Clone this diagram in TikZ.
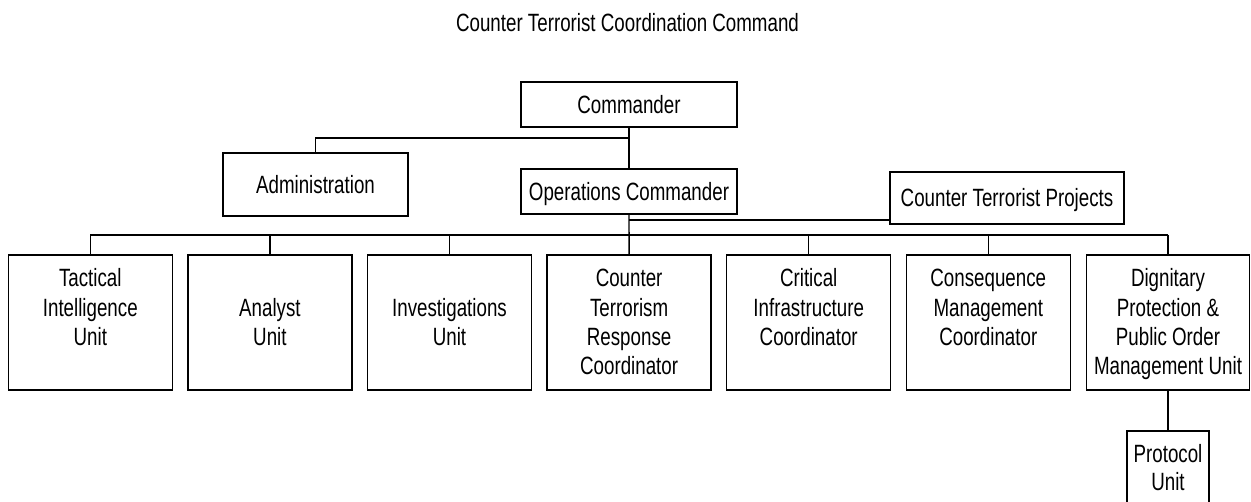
\documentclass[tikz,border=0pt]{standalone}
\usepackage{fontspec}
\setmainfont{Liberation Sans}[FakeStretch=0.75]
\newcommand\orgfont{\fontsize{25}{29.3}\selectfont}
\newcommand\firstln{\rule{0pt}{22pt}}
\begin{document}
\begin{tikzpicture}[x=1pt,y=-1pt,
  conn/.style={line width=1.4pt},
  box/.style={draw,line width=1.4pt,inner sep=0pt,font=\orgfont,text height=18pt,text depth=0pt},
  unitbox/.style={draw,line width=1.4pt,minimum width=164pt,minimum height=135pt,inner sep=0pt},
  utext/.style={anchor=north,inner sep=0pt,align=center,font=\orgfont}]
\useasboundingbox (0,0) rectangle (1251,502);
\clip (0,0) rectangle (1251,502);
\fill[white] (0,0) rectangle (1251,502);

% title
\node[inner sep=0pt,font=\orgfont,text height=18pt,text depth=0pt] (title) at (627.5,22.5) {Counter Terrorist Coordination Command};

% top boxes
\node[box,minimum width=216pt,minimum height=45pt] (cmd) at (629,104.5) {Commander};
\node[box,minimum width=185pt,minimum height=63pt] (adm) at (315.5,184.5) {Administration};
\node[box,minimum width=216pt,minimum height=45pt] (ops) at (629,191.5) {Operations Commander};
\node[box,minimum width=234pt,minimum height=52pt] (ctp) at (1007,198) {Counter Terrorist Projects};

% unit boxes
\node[unitbox] (tiu) at (90.3,322.5) {};
\node[unitbox] (ana) at (269.9,322.5) {};
\node[unitbox] (inv) at (449.5,322.5) {};
\node[unitbox] (ctr) at (629.1,322.5) {};
\node[unitbox] (cic) at (808.7,322.5) {};
\node[unitbox] (cmc) at (988.3,322.5) {};
\node[unitbox,minimum width=163pt] (dig) at (1168,322.5) {};
\node[draw,line width=1.4pt,minimum width=82pt,minimum height=89pt,inner sep=0pt] (prot) at (1168,475.5) {};

% unit texts
\node[utext] (tiut) at (90.3,264.7) {\firstln Tactical\\Intelligence\\Unit};
\node[utext] (anat) at (269.9,294) {\firstln Analyst\\Unit};
\node[utext] (invt) at (449.5,294) {\firstln Investigations\\Unit};
\node[utext] (ctrt) at (629.1,264.7) {\firstln Counter\\Terrorism\\Response\\Coordinator};
\node[utext] (cict) at (808.7,264.7) {\firstln Critical\\Infrastructure\\Coordinator};
\node[utext] (cmct) at (988.3,264.7) {\firstln Consequence\\Management\\Coordinator};
\node[utext] (digt) at (1168,264.7) {\firstln Dignitary\\Protection \&\\Public Order\\Management Unit};
\node[utext,font=\fontsize{25}{27.5}\selectfont] (prott) at (1168,440.7) {\firstln Protocol\\Unit};

% connectors
\draw[conn] (cmd.south) -- (ops.north);
\draw[conn] (cmd.south |- 0,138) -| (adm.north);
\draw[conn] (ops.south) -- (ctr.north);
\draw[conn] (ops.south |- 0,220) -- (ctp.west |- 0,220);
\draw[conn] (tiu.north |- 0,235) -- (dig.north |- 0,235);
\foreach \n in {tiu,ana,inv,cic,cmc,dig}{
  \draw[conn] (\n.north |- 0,235) -- (\n.north);
}
\draw[conn] (dig.south) -- (prot.north);
\end{tikzpicture}
\end{document}
